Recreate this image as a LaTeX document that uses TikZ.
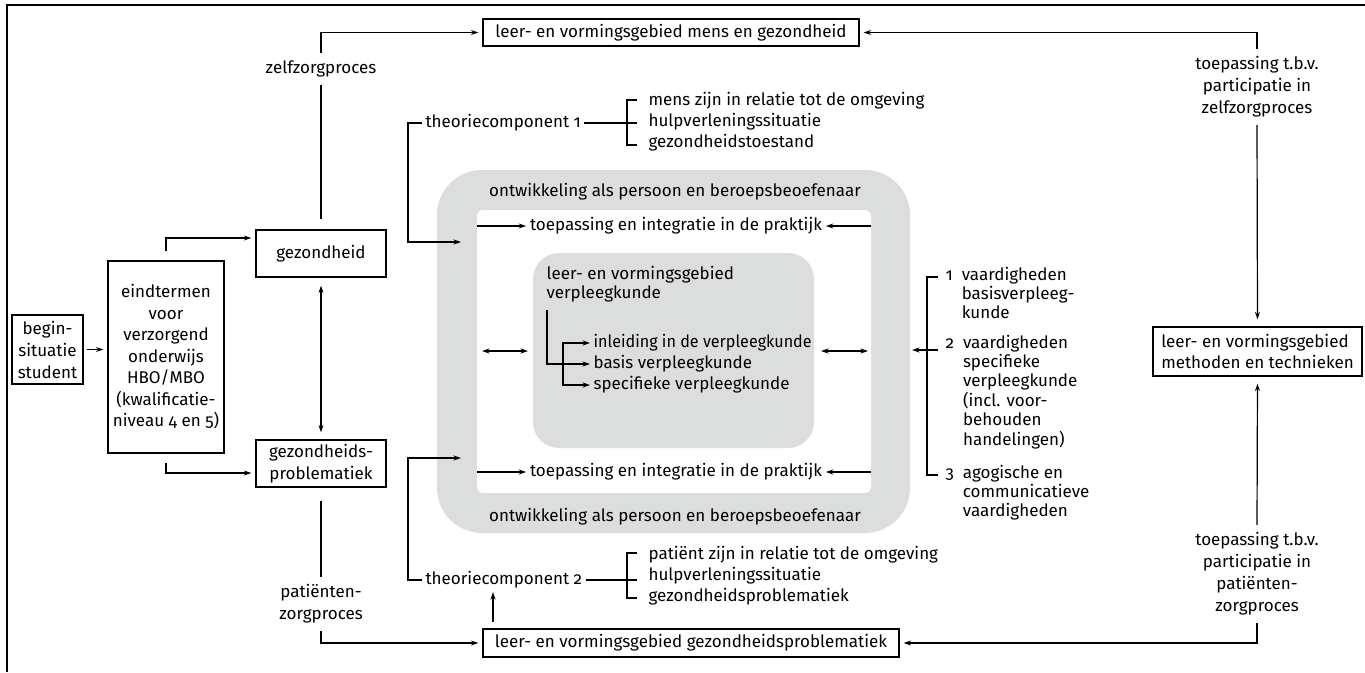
\documentclass[tikz,border=0pt]{standalone}
\usepackage{fontspec}
\setmainfont[Numbers=OldStyle]{Fira Sans}
\usepackage{graphicx}
\usepackage{tikz}
\usetikzlibrary{arrows.meta,calc,positioning}
\definecolor{bandgray}{RGB}{220,221,221}

\begin{document}
\begin{tikzpicture}[x=1pt,y=-1pt,>={Stealth[length=7.5pt,width=5pt]},line width=1.2pt,
    font=\fontsize{17}{21}\selectfont]
  \tikzstyle{box}=[draw,inner sep=3pt,align=center]
  \tikzstyle{label}=[inner sep=7pt,align=center,font=\fontsize{17}{22}\selectfont]
  \tikzstyle{item}=[anchor=west,inner sep=3pt,align=left]
  \tikzstyle{link}=[->,shorten >=4pt]

  \useasboundingbox (0,0) rectangle (1365,672);
  \draw[line width=2pt] (7,672) -- (7,5) -- (1365,5);

  % grijze banden
  \fill[bandgray,rounded corners=45] (437,170) rectangle (910,533);
  \fill[white,rounded corners=6] (477,210) rectangle (871,493);
  \fill[bandgray,rounded corners=26] (533,253) rectangle (814,448);

  \node [box,minimum width=71,minimum height=69,font=\fontsize{17}{22}\selectfont] (bs) at (47.5,349.5) {begin-\\situatie\\student};
  \node [box,minimum width=116,minimum height=192,font=\fontsize{17}{21.5}\selectfont] (et) at (166,357)
    {eindtermen\\voor\\verzorgend\\onderwijs\\HBO/MBO\\(kwalificatie-\\niveau 4 en 5)};
  \node [box,minimum width=130,minimum height=47] (gz) at (321,253.5) {gezondheid};
  \node [box,minimum width=130,minimum height=47,font=\fontsize{17}{22}\selectfont] (gzp) at (321,463.5) {gezondheids-\\problematiek};
  \node [box,minimum width=376,minimum height=27] (mg) at (671,32.5) {leer- en vormingsgebied mens en gezondheid};
  \node [box,minimum width=416,minimum height=28] (gp) at (691,643) {leer- en vormingsgebied gezondheidsproblematiek};
  \node [box,align=left,minimum width=209,minimum height=49] (mt) at (1257.5,351.5) {leer- en vormingsgebied\\methoden en technieken};

  \node [label] (zp) at (321,69) {zelfzorgproces};
  \node [label] (pz) at (321,604) {patiënten-\\zorgproces};
  \node [label] (tz) at (1257,87) {toepassing t.b.v.\\participatie in\\zelfzorgproces};
  \node [label] (tpz) at (1257,574) {toepassing t.b.v.\\participatie in\\patiënten-\\zorgproces};

  \draw [link,shorten <=3pt] (bs.east) -- (bs.east -| et.west);
  \draw [link] ([yshift=9pt]et.north) |- ([yshift=15.5pt]gz.west);
  \draw [link] ([yshift=-9pt]et.south) |- ([yshift=-9.5pt]gzp.west);
  \draw [<->,shorten <=8pt,shorten >=7pt] (gz) -- (gzp);
  \draw [shorten <=10pt] (gz.north) -- (zp.south);
  \draw [link] (zp.north) |- (mg.west);
  \draw [shorten <=13pt] (gzp.south) -- (pz.north);
  \draw [link] (pz.south) |- (gp.west);
  \draw [link] (tz.north) |- (mg.east);
  \draw [link,shorten >=7pt] (tz.south) -- (mt.north);
  \draw [link,shorten >=7pt] (tpz.north) -- (mt.south);
  \draw [link] (tpz.south) |- (gp.east);

  % ontwikkeling
  \node (ow1) at (675,192) {ontwikkeling als persoon en beroepsbeoefenaar};
  \node (ow2) at (675,517) {ontwikkeling als persoon en beroepsbeoefenaar};
  \node (tp1) at (676,226) {toepassing en integratie in de praktijk};
  \node (tp2) at (676,472) {toepassing en integratie in de praktijk};
  \coordinate (tp1w) at (477,226);
  \coordinate (tp1e) at (871,226);
  \coordinate (tp2w) at (477,472);
  \coordinate (tp2e) at (871,472);
  \draw [->] (tp1w) -- (tp1);
  \draw [->] (tp1e) -- (tp1);
  \draw [->] (tp2w) -- (tp2);
  \draw [->] (tp2e) -- (tp2);

  % verpleegkunde
  \node [item,font=\fontsize{17}{19}\selectfont] (vk) at (543,284.5) {leer- en vormingsgebied\\verpleegkunde};
  \node [item] (v1) at (590,343) {\scalebox{0.95}[1]{inleiding in de verpleegkunde}};
  \node [item] (v2) at (590,364) {basis verpleegkunde};
  \node [item] (v3) at (590,385) {specifieke verpleegkunde};
  \coordinate (vroot) at (547,310);
  \coordinate (vbr) at (563,364);
  \draw [->] (vroot) |- (v2);
  \draw [->] (vbr) |- (v1);
  \draw [->] (vbr) |- (v3);
  \coordinate (la1) at (482,351);
  \coordinate (la2) at (528,351);
  \coordinate (ra1) at (821,351);
  \coordinate (ra2) at (868,351);
  \draw [<->] (la1) -- (la2);
  \draw [<->] (ra1) -- (ra2);

  % theoriecomponenten
  \node [item] (tc1) at (422,123) {theoriecomponent 1};
  \node [item] (th1) at (645,122) {mens zijn in relatie tot de omgeving\\hulpverleningssituatie\\gezondheidstoestand};
  \coordinate (b1t) at (637,100);
  \coordinate (b1b) at (637,145);
  \coordinate (in1) at (461,242);
  \draw (b1t) -- ++(-10,0) |- (b1b);
  \draw (tc1) -- (tc1 -| b1t);
  \draw [->] (tc1.west) -- ++(-14,0) |- (in1);

  \node [item] (tc2) at (422,580) {theoriecomponent 2};
  \node [item] (th2) at (645,576) {patiënt zijn in relatie tot de omgeving\\hulpverleningssituatie\\gezondheidsproblematiek};
  \coordinate (b2t) at (637,553);
  \coordinate (b2b) at (637,598);
  \coordinate (in2) at (461,458);
  \draw (b2t) -- ++(-10,0) |- (b2b);
  \draw (tc2) -- (tc2 -| b2t);
  \draw [->] (tc2.west) -- ++(-14,0) |- (in2);
  \coordinate (gpt) at (493,622);
  \draw [->] (gpt) -- (gpt |- tc2.south);

  % vaardigheden
  \node [item,font=\fontsize{17}{19}\selectfont] (va1) at (942,296)
    {\begin{tabular}{@{}l@{\ \ }l@{}}1 & vaardigheden\\ & basisverpleeg-\\ & kunde\end{tabular}};
  \node [item,font=\fontsize{17}{19}\selectfont] (va2) at (942,393.5)
    {\begin{tabular}{@{}l@{\ \ }l@{}}2 & vaardigheden\\ & specifieke\\ & verpleegkunde\\ & (incl. voor-\\ & behouden\\ & handelingen)\end{tabular}};
  \node [item,font=\fontsize{17}{19}\selectfont] (va3) at (942,494)
    {\begin{tabular}{@{}l@{\ \ }l@{}}3 & agogische en\\ & communicatieve\\ & vaardigheden\end{tabular}};
  \coordinate (vb1) at (938,277);
  \coordinate (vb3) at (938,475);
  \coordinate (vb2) at (938,350);
  \coordinate (vtip) at (912,350);
  \draw (vb1) -- ++(-11,0) |- (vb3);
  \draw [->] (vb2) -- (vtip);
\end{tikzpicture}
\end{document}
